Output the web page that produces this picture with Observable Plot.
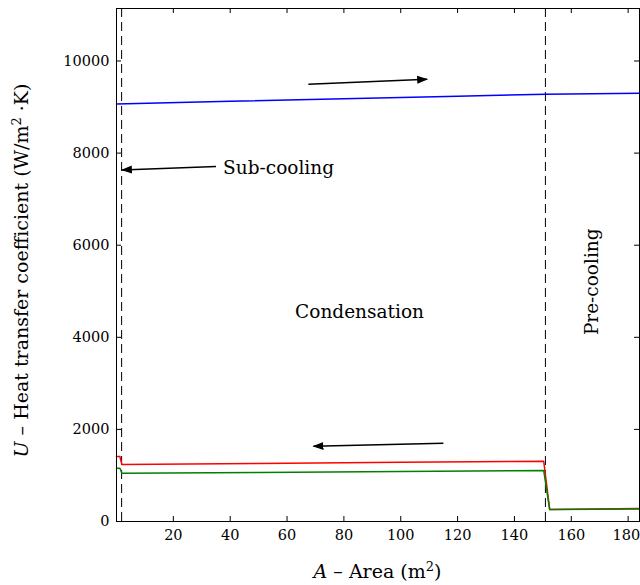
<!DOCTYPE html>
<html><head><meta charset="utf-8">
<script src="https://cdn.jsdelivr.net/npm/d3@7"></script>
<script src="https://cdn.jsdelivr.net/npm/@observablehq/plot@0.6"></script>
<style>body{margin:0;background:#fff}</style>
</head><body><div id="chart"></div>
<script>
// ---- data ----
const xTicks = [20, 40, 60, 80, 100, 120, 140, 160, 180];
const yTicks = [0, 2000, 4000, 6000, 8000, 10000];

const blueA = [0, 40, 80, 120, 151, 184];
const blueU = [9065, 9125, 9180, 9235, 9280, 9300];

const redA = [0, 1.2, 1.9, 50, 100, 150.3, 152.4, 184];
const redU = [1410, 1410, 1236, 1260, 1285, 1308, 262, 282];

const greenA = [0, 1.2, 1.9, 50, 100, 150.3, 152.4, 184];
const greenU = [1156, 1156, 1048, 1065, 1085, 1106, 258, 272];

const dividers = [1.8, 150.9];

const arrowX1 = [67.5, 35, 115];
const arrowY1 = [9495, 7711, 1698];
const arrowX2 = [109.3, 1.9, 69.3];
const arrowY2 = [9603, 7635, 1633];

const labelText = ["Sub-cooling", "Condensation"];
const labelA = [37.5, 85.5];
const labelU = [7679, 4555];
const labelAnchor = ["start", "middle"];

const preText = ["Pre-cooling"];
const preA = [167.4];
const preU = [5206];

// ---- build tables ----
const toRows = (A, U) => A.map((a, i) => ({A: a, U: U[i]}));
const blue = toRows(blueA, blueU);
const red = toRows(redA, redU);
const green = toRows(greenA, greenU);
const arrows = arrowX1.map((x, i) => ({x1: x, y1: arrowY1[i], x2: arrowX2[i], y2: arrowY2[i]}));
const labels = labelText.map((t, i) => ({t, A: labelA[i], U: labelU[i], anchor: labelAnchor[i]}));
const pre = preText.map((t, i) => ({t, A: preA[i], U: preU[i]}));

const W = 640, H = 585, mL = 116, mR = 1, mT = 8, mB = 64;
const fw = W - mL - mR, fh = H - mT - mB;
const font = "DejaVu Serif";
const fmt = d3.format("d");
const lastX = xTicks[xTicks.length - 1];

const plot = Plot.plot({
  width: W, height: H,
  marginLeft: mL, marginRight: mR, marginTop: mT, marginBottom: mB,
  style: {fontFamily: font, fontSize: "14.5px", background: "white", color: "black"},
  x: {domain: [0, 184], label: null},
  y: {domain: [0, 11140], label: null},
  marks: [
    Plot.ruleX(dividers, {x: d => d, stroke: "black", strokeWidth: 1, strokeDasharray: "9,5"}),
    Plot.line(blue, {x: "A", y: "U", stroke: "#0000ff", strokeWidth: 1.5}),
    Plot.line(red, {x: "A", y: "U", stroke: "#ff0000", strokeWidth: 1.5}),
    Plot.line(green, {x: "A", y: "U", stroke: "#008000", strokeWidth: 1.5}),
    Plot.link(arrows, {x1: "x1", y1: "y1", x2: "x2", y2: "y2", stroke: "black", strokeWidth: 1.5, markerEnd: "arrow"}),
    Plot.text(labels.filter(d => d.anchor === "start"), {x: "A", y: "U", text: "t", textAnchor: "start", fontSize: 18.5, fill: "black"}),
    Plot.text(labels.filter(d => d.anchor === "middle"), {x: "A", y: "U", text: "t", textAnchor: "middle", fontSize: 18.5, fill: "black"}),
    Plot.text(pre, {x: "A", y: "U", text: "t", rotate: -90, fontSize: 18.5, fill: "black"}),
    Plot.ruleX(xTicks, {x: d => d, insetTop: fh - 5, stroke: "black"}),
    Plot.ruleX(xTicks, {x: d => d, insetBottom: fh - 5, stroke: "black"}),
    Plot.ruleY(yTicks, {y: d => d, insetRight: fw - 5, stroke: "black"}),
    Plot.ruleY(yTicks, {y: d => d, insetLeft: fw - 5, stroke: "black"}),
    Plot.axisX(xTicks.filter(d => d !== lastX), {anchor: "bottom", tickSize: 0, tickPadding: 8, fontSize: 14.5, tickFormat: fmt}),
    Plot.axisX([lastX], {anchor: "bottom", tickSize: 0, tickPadding: 8, fontSize: 14.5, tickFormat: fmt, textAnchor: "end", dx: 12}),
    Plot.axisY(yTicks, {anchor: "left", tickSize: 0, tickPadding: 7, fontSize: 14.5, tickFormat: fmt}),
    Plot.frame({stroke: "black", strokeWidth: 1})
  ]
});

const svg = d3.select(plot);
// filled arrowheads
svg.selectAll("marker").each(function () {
  const m = d3.select(this);
  m.attr("viewBox", "-10 -5 11 10").attr("markerWidth", 11).attr("markerHeight", 10)
   .attr("markerUnits", "userSpaceOnUse").attr("refX", 0).attr("refY", 0);
  m.selectAll("path").attr("d", "M-10,-4L1,0L-10,4Z").attr("fill", "black").attr("stroke", "none");
});

// axis labels
const xl = svg.append("text").attr("x", (mL + W - mR) / 2).attr("y", 578)
  .attr("text-anchor", "middle").attr("font-family", font).attr("font-size", 19).attr("fill", "black");
xl.append("tspan").attr("font-style", "italic").text("A");
xl.append("tspan").text(" – Area (m");
xl.append("tspan").attr("dy", -7).attr("font-size", 13).text("2");
xl.append("tspan").attr("dy", 7).text(")");

const yl = svg.append("text").attr("transform", `translate(28,${(mT + H - mB) / 2 + 6}) rotate(-90)`)
  .attr("text-anchor", "middle").attr("font-family", font).attr("font-size", 19).attr("fill", "black");
yl.append("tspan").attr("font-style", "italic").text("U");
yl.append("tspan").text(" – Heat transfer coefficient (W/m");
yl.append("tspan").attr("dy", -7).attr("font-size", 13).text("2");
yl.append("tspan").attr("dy", 7).text(" ·K)");

document.getElementById("chart").appendChild(plot);
</script>
</body></html>
